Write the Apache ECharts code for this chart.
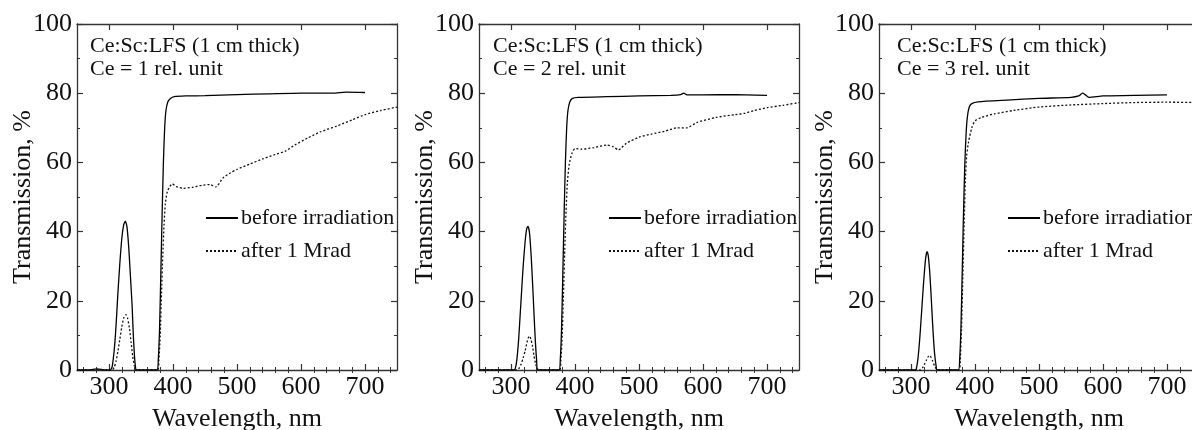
<!DOCTYPE html>
<html>
<head>
<meta charset="utf-8">
<script src="https://cdn.jsdelivr.net/npm/echarts@6/dist/echarts.min.js"></script>
<style>
  html, body { margin: 0; padding: 0; background: #fff; }
  #main { width: 1192px; height: 430px; }
</style>
</head>
<body>
<div id="main"></div>
<script>
// wavelength ticks
var majorTicks = [300, 400, 500, 600, 700];
var minorTicks = [260, 280, 320, 340, 360, 380, 420, 440, 460, 480, 520, 540, 560, 580, 620, 640, 660, 680, 720, 740];

var panelNotes = [
    'Ce:Sc:LFS (1 cm thick)\nCe = 1 rel. unit',
    'Ce:Sc:LFS (1 cm thick)\nCe = 2 rel. unit',
    'Ce:Sc:LFS (1 cm thick)\nCe = 3 rel. unit'
];
var seriesNames = ['before irradiation', 'after 1 Mrad'];

// [wavelength nm, transmission %]
var before1 = [[250,0],[270,0],[280,0.3],[288,0.2],[295,0],[302,0],[305,1],[308,5.5],[310,10],[312,16],[314,22.5],[317,31],[320,38],[323,42],[325.5,43],[328,41.5],[331,35],[333.5,27],[336,19],[338,10],[339.5,5],[341,1.5],[343,0],[375,0],[377,3],[379,12],[381,28],[383,45],[385,60],[387,70],[389,75],[392,77.5],[396,78.5],[402,79],[420,79.2],[450,79.3],[500,79.6],[550,79.8],[600,80],[650,80],[670,80.3],[700,80.2]];
var after1 = [[250,0],[305,0],[308,0.8],[311,2.5],[314,5.5],[317,9],[320,12.5],[323,15],[326.5,16],[329,15],[332,12],[334.5,8],[337,4],[339.5,1.3],[342,0],[376,0],[378,3],[380,10],[382,22],[384,33],[386,42],[388,48],[391,51.5],[395,53],[399,53.8],[405,53],[416,52.5],[430,52.8],[445,53.4],[458,53.6],[467,52.9],[478,55.5],[490,57],[500,58],[520,59.5],[540,61],[560,62.3],[575,63.2],[590,65],[610,67],[630,68.8],[656,70.5],[680,72.3],[700,73.8],[725,75],[750,76]];

var before2 = [[250,0],[305,0],[308,1.5],[310,4.5],[312,9],[314,15],[316,21],[319,30],[322,37],[324.5,40.8],[326.6,41.5],[329,39.5],[331.5,33],[334,24],[336,16],[338,8.5],[340,3],[342,0],[375,0],[377,3],[379,12],[381,28],[383,45],[385,60],[387,70],[389,75],[392,77.5],[396,78.5],[405,78.8],[450,79],[500,79.2],[550,79.4],[565,79.6],[570,80],[575,79.5],[600,79.5],[650,79.6],[700,79.4]];
var after2 = [[250,0],[310,0],[313,0.6],[316,1.8],[319,3.5],[322,5.5],[325,8],[327,9.3],[329,9.8],[331,9],[333.5,7],[336,4],[338.5,1.8],[341,0.4],[343,0],[376,0],[378,3],[380,10],[382,22],[384,35],[386,46],[388,54],[391,59.5],[395,62.5],[400,64],[410,63.8],[430,64.3],[450,65],[460,64.5],[468,63.6],[480,65.5],[500,67.3],[520,68.2],[540,69],[560,70],[575,70],[590,71.5],[620,73],[650,73.8],[665,74.2],[680,75],[700,75.8],[725,76.5],[750,77.3]];

var before3 = [[250,0],[307,0],[309,1],[311,3.5],[313,7.5],[315,12.5],[317,18],[319,23.5],[321,28.5],[323,32.5],[325,34.2],[327,33],[329,29],[331,23],[333,16],[335,9.5],[337,4.5],[339,1.5],[341,0],[374,0],[376,3],[378,12],[380,28],[382,45],[384,59],[386,68],[388,73],[391,76],[395,77],[405,77.5],[450,78],[500,78.5],[550,78.8],[562,79.2],[568,80],[572,79.6],[578,78.8],[600,79.2],[650,79.4],[700,79.5]];
var after3 = [[250,0],[315,0],[318,0.6],[321,1.6],[324,2.8],[327,3.9],[329,4.2],[331,3.8],[334,2.5],[337,1.1],[340,0.2],[342,0],[375,0],[377,3],[379,12],[381,27],[383,42],[385,55],[387,62],[390,66],[395,70],[400,72],[410,73],[430,74],[460,75],[500,76],[550,76.6],[600,77],[650,77.3],[700,77.4],[750,77.3]];

var panelData = [[before1, after1], [before2, after2], [before3, after3]];

var serif = 'Liberation Serif';
var frameColor = '#333';
var inkColor = '#111';

// left edges of the three plot frames
var gridLeft = [77, 479, 879];
var legendLeft = [205, 608, 1007];
var noteLeft = [90, 493, 897];

var grids = [], xAxes = [], yAxes = [], series = [], titles = [], legends = [];

gridLeft.forEach(function (left, i) {
    grids.push({ left: left, width: 320, top: 24, bottom: 60, outerBoundsMode: 'none' });

    var axisLine = { show: true, onZero: false, lineStyle: { color: frameColor, width: 1.3 } };
    // bottom + top x axes, major and minor ticks
    ['bottom', 'top'].forEach(function (pos) {
        xAxes.push({
            type: 'value', gridIndex: i, position: pos, min: 250, max: 750,
            axisLine: axisLine,
            axisTick: { show: true, inside: true, length: 6, customValues: majorTicks, lineStyle: { color: frameColor, width: 1.2 } },
            axisLabel: pos === 'bottom'
                ? { show: true, customValues: majorTicks, fontFamily: serif, fontSize: 26, color: inkColor, margin: 4 }
                : { show: false },
            splitLine: { show: false },
            name: pos === 'bottom' ? 'Wavelength, nm' : '',
            nameLocation: 'middle', nameGap: 36,
            nameTextStyle: { fontFamily: serif, fontSize: 26, color: inkColor }
        });
        xAxes.push({
            type: 'value', gridIndex: i, position: pos, min: 250, max: 750,
            axisLine: { show: false },
            axisTick: { show: true, inside: true, length: 3, customValues: minorTicks, lineStyle: { color: frameColor, width: 1 } },
            axisLabel: { show: false },
            splitLine: { show: false }
        });
    });

    yAxes.push({
        type: 'value', gridIndex: i, position: 'left', min: 0, max: 100, interval: 20,
        axisLine: axisLine,
        axisTick: { show: true, inside: true, length: 6, lineStyle: { color: frameColor, width: 1.2 } },
        minorTick: { show: true, splitNumber: 2, length: 3, lineStyle: { color: frameColor, width: 1 } },
        axisLabel: { fontFamily: serif, fontSize: 26, color: inkColor, margin: 5 },
        splitLine: { show: false },
        name: 'Transmission, %', nameLocation: 'middle', nameGap: 41, nameMoveOverlap: false,
        nameTextStyle: { fontFamily: serif, fontSize: 26, color: inkColor }
    });
    yAxes.push({
        type: 'value', gridIndex: i, position: 'right', min: 0, max: 100, interval: 20,
        axisLine: axisLine,
        axisTick: { show: true, inside: true, length: 6, lineStyle: { color: frameColor, width: 1.2 } },
        minorTick: { show: true, splitNumber: 2, length: 3, lineStyle: { color: frameColor, width: 1 } },
        axisLabel: { show: false },
        splitLine: { show: false }
    });

    var pair = panelData[i];
    series.push({
        name: seriesNames[0], type: 'line', xAxisIndex: i * 4, yAxisIndex: i * 2,
        data: pair[0], symbol: 'none', smooth: 0.2, silent: true,
        itemStyle: { color: '#000' },
        lineStyle: { color: '#000', width: 1.3, type: 'solid' }
    });
    series.push({
        name: seriesNames[1], type: 'line', xAxisIndex: i * 4, yAxisIndex: i * 2,
        data: pair[1], symbol: 'none', smooth: 0.2, silent: true,
        itemStyle: { color: '#111' },
        lineStyle: { color: '#111', width: 1.3, type: [2, 2] }
    });

    titles.push({
        text: panelNotes[i], left: noteLeft[i], top: 35, padding: 0,
        textStyle: { fontFamily: serif, fontSize: 22, fontWeight: 'normal', color: inkColor, lineHeight: 23 }
    });

    legends.push({
        left: legendLeft[i], top: 207, orient: 'vertical', padding: 0,
        itemWidth: 32, itemHeight: 14, itemGap: 11,
        data: seriesNames, selectedMode: false,
        itemStyle: { opacity: 0 },
        textStyle: { fontFamily: serif, fontSize: 22, color: inkColor, padding: [0, 0, 0, -2] }
    });
});

var chart = echarts.init(document.getElementById('main'));
chart.setOption({
    backgroundColor: '#fff',
    animation: false,
    title: titles,
    legend: legends,
    grid: grids,
    xAxis: xAxes,
    yAxis: yAxes,
    series: series
});
</script>
</body>
</html>
